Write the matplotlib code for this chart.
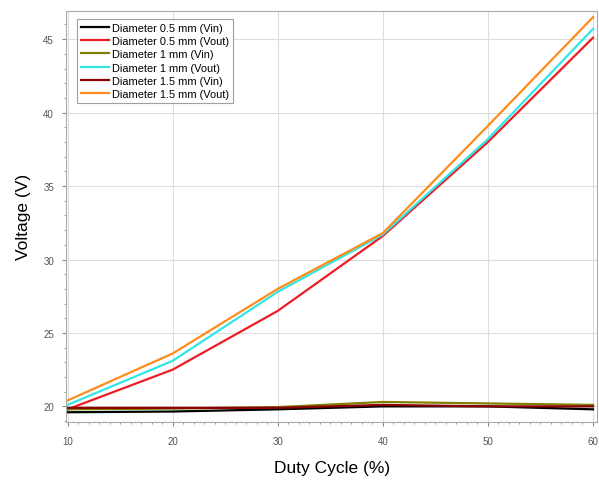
import matplotlib
matplotlib.use("Agg")
import matplotlib.pyplot as plt
from matplotlib.ticker import MultipleLocator

duty = [10, 20, 30, 40, 50, 60]

vin_05 = [19.6, 19.65, 19.8, 20.0, 20.0, 19.8]
vout_05 = [19.8, 22.5, 26.5, 31.6, 38.0, 45.1]
vin_10 = [19.8, 19.85, 19.95, 20.3, 20.2, 20.1]
vout_10 = [20.1, 23.1, 27.8, 31.7, 38.2, 45.7]
vin_15 = [19.9, 19.9, 19.9, 20.1, 20.0, 20.0]
vout_15 = [20.4, 23.6, 28.0, 31.8, 39.1, 46.5]

series = [
    ("Diameter 0.5 mm (Vin)", vin_05, "#000000"),
    ("Diameter 0.5 mm (Vout)", vout_05, "#EE1C25"),
    ("Diameter 1 mm (Vin)", vin_10, "#808000"),
    ("Diameter 1 mm (Vout)", vout_10, "#33E6E6"),
    ("Diameter 1.5 mm (Vin)", vin_15, "#8B0000"),
    ("Diameter 1.5 mm (Vout)", vout_15, "#FF8C1A"),
]

plt.rcParams["font.family"] = ["Liberation Sans", "DejaVu Sans"]

fig = plt.figure(figsize=(5.99, 4.81), dpi=100)
ax = fig.add_axes([0.111, 0.121, 0.886, 0.855])

for name, vals, col in series:
    ax.plot(duty, vals, color=col, lw=1.6, label=name)

ax.set_xlim(9.9, 60.4)
ax.set_ylim(18.95, 46.95)
ax.xaxis.set_major_locator(MultipleLocator(10))
ax.xaxis.set_minor_locator(MultipleLocator(1))
ax.yaxis.set_major_locator(MultipleLocator(5))
ax.yaxis.set_minor_locator(MultipleLocator(1))
ax.grid(True, which="major", color="#DDDDDD", lw=0.8)
ax.set_axisbelow(True)
for s in ax.spines.values():
    s.set_color("#AAAAAA")
    s.set_linewidth(0.8)
ax.tick_params(which="both", direction="out", colors="#888888", labelsize=7, labelcolor="#555555")
ax.tick_params(which="major", length=3)
ax.tick_params(which="minor", length=1.5)
ax.tick_params(axis="x", pad=7)
ax.tick_params(axis="y", pad=6)

ax.set_xlabel("Duty Cycle (%)", fontsize=12.5, labelpad=10)
ax.set_ylabel("Voltage (V)", fontsize=12.5, labelpad=9)

leg = ax.legend(loc="upper left", fontsize=7.9, frameon=True, fancybox=False,
                handlelength=2.5, handletextpad=0.3, borderpad=0.35, labelspacing=0.3,
                bbox_to_anchor=(0.01, 0.993))
leg.get_frame().set_edgecolor("#888888")
leg.get_frame().set_linewidth(0.8)

fig.savefig("out.png", dpi=100)
